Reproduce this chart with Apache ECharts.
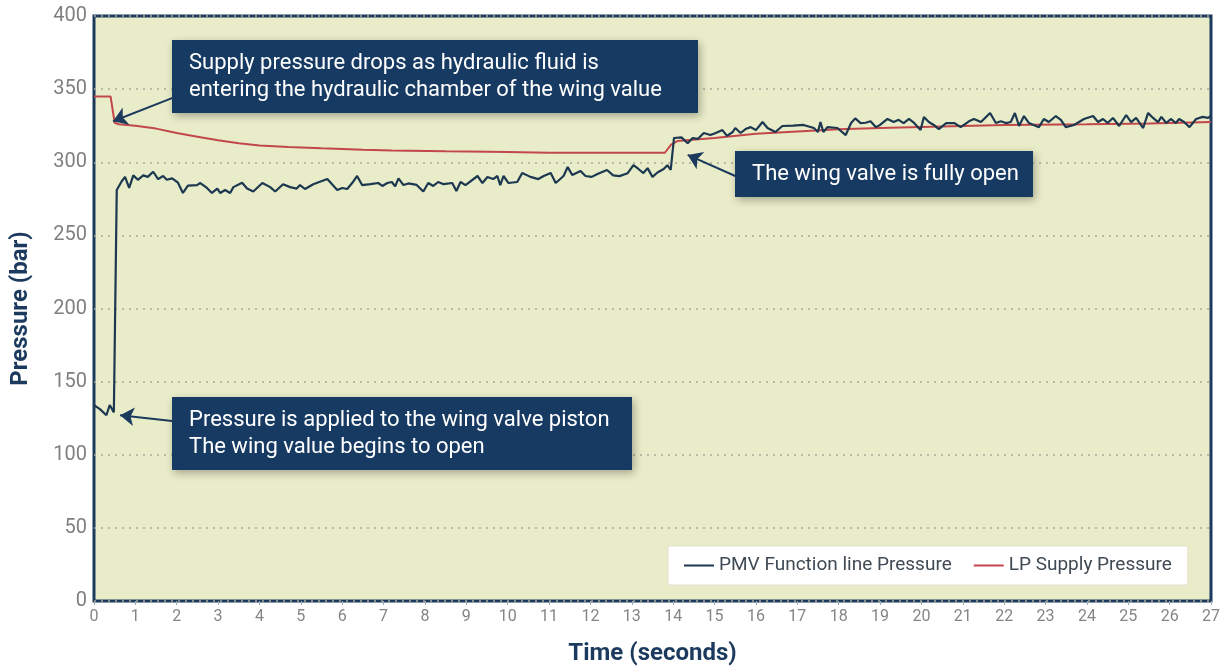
<!DOCTYPE html>
<html>
<head>
<meta charset="utf-8">
<script src="https://cdn.jsdelivr.net/npm/echarts@6/dist/echarts.min.js"></script>
<style>
  html, body { margin: 0; padding: 0; background: #fff; }
  #chart { width: 1230px; height: 666px; }
</style>
</head>
<body>
<div id="chart"></div>
<script>
// PMV function line pressure (bar)
const pmvTime = [0, 0.15, 0.3, 0.38, 0.48, 0.55, 0.67, 0.75, 0.85, 0.95, 1.06, 1.19, 1.3, 1.43, 1.55, 1.67, 1.76, 1.89,
  2.03, 2.15, 2.27, 2.49, 2.57, 2.73, 2.85, 2.98, 3.05, 3.17, 3.29, 3.37, 3.58, 3.7, 3.85, 4.07, 4.26, 4.38, 4.57, 4.74,
  4.9, 4.98, 5.1, 5.3, 5.64, 5.88, 6.0, 6.12, 6.24, 6.36, 6.48, 6.68, 6.87, 6.97, 7.09, 7.2, 7.28, 7.36, 7.48, 7.6, 7.8,
  7.96, 8.08, 8.2, 8.32, 8.45, 8.66, 8.76, 8.86, 8.98, 9.27, 9.39, 9.51, 9.65, 9.75, 9.82, 9.9, 10.02, 10.23, 10.35,
  10.55, 10.74, 10.87, 11.04, 11.16, 11.35, 11.45, 11.56, 11.76, 11.88, 12.03, 12.17, 12.4, 12.55, 12.7, 12.9, 13.04,
  13.16, 13.28, 13.38, 13.5, 13.62, 13.77, 13.86, 13.94, 14.02, 14.2, 14.35, 14.47, 14.6, 14.74, 14.9, 15.03, 15.19,
  15.3, 15.44, 15.5, 15.63, 15.75, 15.87, 16.0, 16.16, 16.28, 16.47, 16.64, 16.9, 17.15, 17.4, 17.5, 17.56, 17.63,
  17.73, 17.97, 18.17, 18.3, 18.4, 18.53, 18.65, 18.77, 18.9, 19.0, 19.18, 19.33, 19.45, 19.57, 19.7, 19.8, 19.98,
  20.06, 20.18, 20.3, 20.42, 20.6, 20.8, 20.95, 21.15, 21.27, 21.44, 21.66, 21.8, 21.92, 22.04, 22.16, 22.26, 22.36,
  22.48, 22.6, 22.84, 22.96, 23.08, 23.25, 23.37, 23.49, 23.69, 23.93, 24.15, 24.27, 24.39, 24.5, 24.63, 24.78, 24.95,
  25.07, 25.19, 25.36, 25.48, 25.6, 25.72, 25.8, 25.92, 26.03, 26.15, 26.23, 26.35, 26.48, 26.64, 26.8, 26.93, 27.0];
const pmvValue = [134, 131, 127, 134, 129, 281, 287, 290, 282.5, 291, 288, 291, 290, 293.5, 288.5, 290.6, 288, 289,
  286, 279, 284, 284.4, 285.8, 282.4, 279, 282, 279, 281, 279, 283, 286, 282, 280, 285.8, 283, 280, 285, 283,
  282, 284.4, 281.7, 285, 288.5, 281, 282.4, 281.7, 285.8, 290.6, 284.4, 285, 285.8, 283.8, 285.8, 286.5, 283.5, 289, 284.4, 285.5, 284.5,
  280, 285.8, 283.8, 286.5, 285, 285.8, 280.3, 286.5, 284.4, 290.6, 285.8, 289.9, 288.5, 290.6, 284.4, 290.6, 285.8, 286.5, 292.6,
  290, 288.5, 290.6, 292.6, 285.8, 290.6, 296.7, 291.3, 294, 290.6, 290, 292, 294.7, 291, 290.5, 292.5, 298,
  295.4, 292.6, 296, 290, 293, 295.4, 298, 294.7, 316.6, 317, 313, 316.6, 316, 320, 318.6, 320, 322,
  318, 320.7, 323.4, 320, 322.7, 324, 322, 327.5, 323.4, 320.7, 324.8, 325, 325.5, 323.4, 320.7, 327.5, 320.7,
  324, 323.4, 318.6, 326.8, 330, 326.8, 327, 328, 324, 325.5, 329.6, 327.5, 329, 326.8, 329.6, 327.5, 322,
  331, 327.5, 325.5, 322.7, 326.8, 326.8, 324, 328, 329.6, 327.5, 333.7, 326.8, 328, 326.8, 327.5, 333.7, 324.8,
  331.6, 326.8, 324, 329.6, 327.5, 331.6, 329, 324, 325.5, 329.6, 331.6, 327.5, 329.6, 326.8, 330.3, 324.8, 332.3,
  327.5, 330.3, 323.4, 333.7, 330.3, 327.5, 331, 326.8, 329.6, 326.8, 329.6, 327.5, 324, 329.6, 331, 330.3, 331.6];

// LP supply pressure (bar)
const lpTime = [0, 0.4, 0.5, 0.6, 1.0, 1.5, 2.0, 2.5, 3.0, 3.5, 4.0, 4.7, 5.5, 6.5, 7.2, 8.5, 10, 11, 12, 13.8,
  13.95, 14.1, 15, 16, 17, 18, 19, 20.5, 22, 24, 25.5, 27];
const lpValue = [345, 345, 327, 326, 325, 323, 320, 317.5, 315, 313, 311.5, 310.5, 309.5, 308.5, 308, 307.5, 307, 306.5, 306.5, 306.5,
  312, 314.5, 316.5, 319.5, 321, 322.5, 323.5, 324.5, 325.5, 326, 326.5, 327.5];

const seriesNames = ['PMV Function line Pressure', 'LP Supply Pressure'];

// annotation arrows: [from, to] in data coords
const arrows = [
  [[1.9, 344], [0.46, 328]],
  [[1.89, 123], [0.63, 127]],
  [[15.5, 290.6], [14.35, 305]]
];

const navy = '#1c3a5e';
const font = 'Roboto, "Noto Sans", sans-serif';

function zip(xs, ys) {
  return xs.map((x, i) => [x, ys[i]]);
}

function noteBox(left, top, width, height, lines) {
  return {
    type: 'group',
    left: left,
    top: top,
    z: 100,
    children: [
      {
        type: 'rect',
        z: 100,
        shape: { width: width, height: height },
        style: {
          fill: '#173a63',
          shadowBlur: 8,
          shadowOffsetX: 2,
          shadowOffsetY: 3,
          shadowColor: 'rgba(0,0,0,0.3)'
        }
      },
      {
        type: 'text',
        z: 101,
        x: 17,
        y: height / 2,
        style: {
          text: lines.join('\n'),
          fill: '#fff',
          font: '22px ' + font,
          lineHeight: 27,
          verticalAlign: 'middle'
        }
      }
    ]
  };
}

const chart = echarts.init(document.getElementById('chart'));
chart.setOption({
  animation: false,
  textStyle: { fontFamily: font },
  grid: {
    left: 94,
    right: 19,
    top: 16,
    bottom: 65,
    outerBoundsMode: 'none',
    show: true,
    backgroundColor: '#e9ecc8',
    borderColor: navy,
    borderWidth: 3
  },
  legend: {
    left: 668,
    top: 546,
    itemGap: 22,
    itemWidth: 30,
    itemHeight: 2,
    padding: [10, 16],
    backgroundColor: '#fff',
    borderColor: '#e2e2cc',
    borderWidth: 1,
    textStyle: { fontSize: 19, color: '#404a55' },
    data: seriesNames.map(n => ({ name: n, icon: 'rect' }))
  },
  xAxis: {
    type: 'value',
    min: 0,
    max: 27,
    interval: 1,
    name: 'Time (seconds)',
    nameLocation: 'middle',
    nameGap: 41,
    nameTextStyle: { fontSize: 24, fontWeight: 'bold', color: navy },
    axisLine: { show: false },
    axisTick: { show: true, length: 4, lineStyle: { color: '#9aa' } },
    axisLabel: { fontSize: 16, color: '#858585', margin: 8 },
    splitLine: { show: false }
  },
  yAxis: {
    type: 'value',
    min: 0,
    max: 400,
    interval: 50,
    name: 'Pressure (bar)',
    nameLocation: 'middle',
    nameGap: 61,
    nameTextStyle: { fontSize: 24, fontWeight: 'bold', color: navy },
    axisLine: { show: false },
    axisTick: { show: false },
    axisLabel: { fontSize: 20, color: '#808080', margin: 7 },
    splitLine: { show: true, lineStyle: { color: '#a9a99a', type: [2, 5], width: 1.5 } }
  },
  series: [
    {
      name: seriesNames[0],
      type: 'line',
      data: zip(pmvTime, pmvValue),
      symbol: 'none',
      z: 3,
      lineStyle: { color: '#1b3850', width: 2.2 },
      itemStyle: { color: '#1b3850' },
      markLine: {
        silent: true,
        symbol: ['none', 'arrow'],
        symbolSize: 14,
        label: { show: false },
        lineStyle: { color: navy, width: 2, type: 'solid' },
        data: arrows.map(a => [{ coord: a[0] }, { coord: a[1] }])
      }
    },
    {
      name: seriesNames[1],
      type: 'line',
      data: zip(lpTime, lpValue),
      symbol: 'none',
      z: 2,
      lineStyle: { color: '#c2474b', width: 2 },
      itemStyle: { color: '#c2474b' }
    }
  ],
  graphic: [
    noteBox(172, 40, 526, 73, ['Supply pressure drops as hydraulic fluid is', 'entering the hydraulic chamber of the wing value']),
    noteBox(172, 397, 460, 73, ['Pressure is applied to the wing valve piston', 'The wing value begins to open']),
    noteBox(735, 151, 298, 46, ['The wing valve is fully open'])
  ]
});
</script>
</body>
</html>
